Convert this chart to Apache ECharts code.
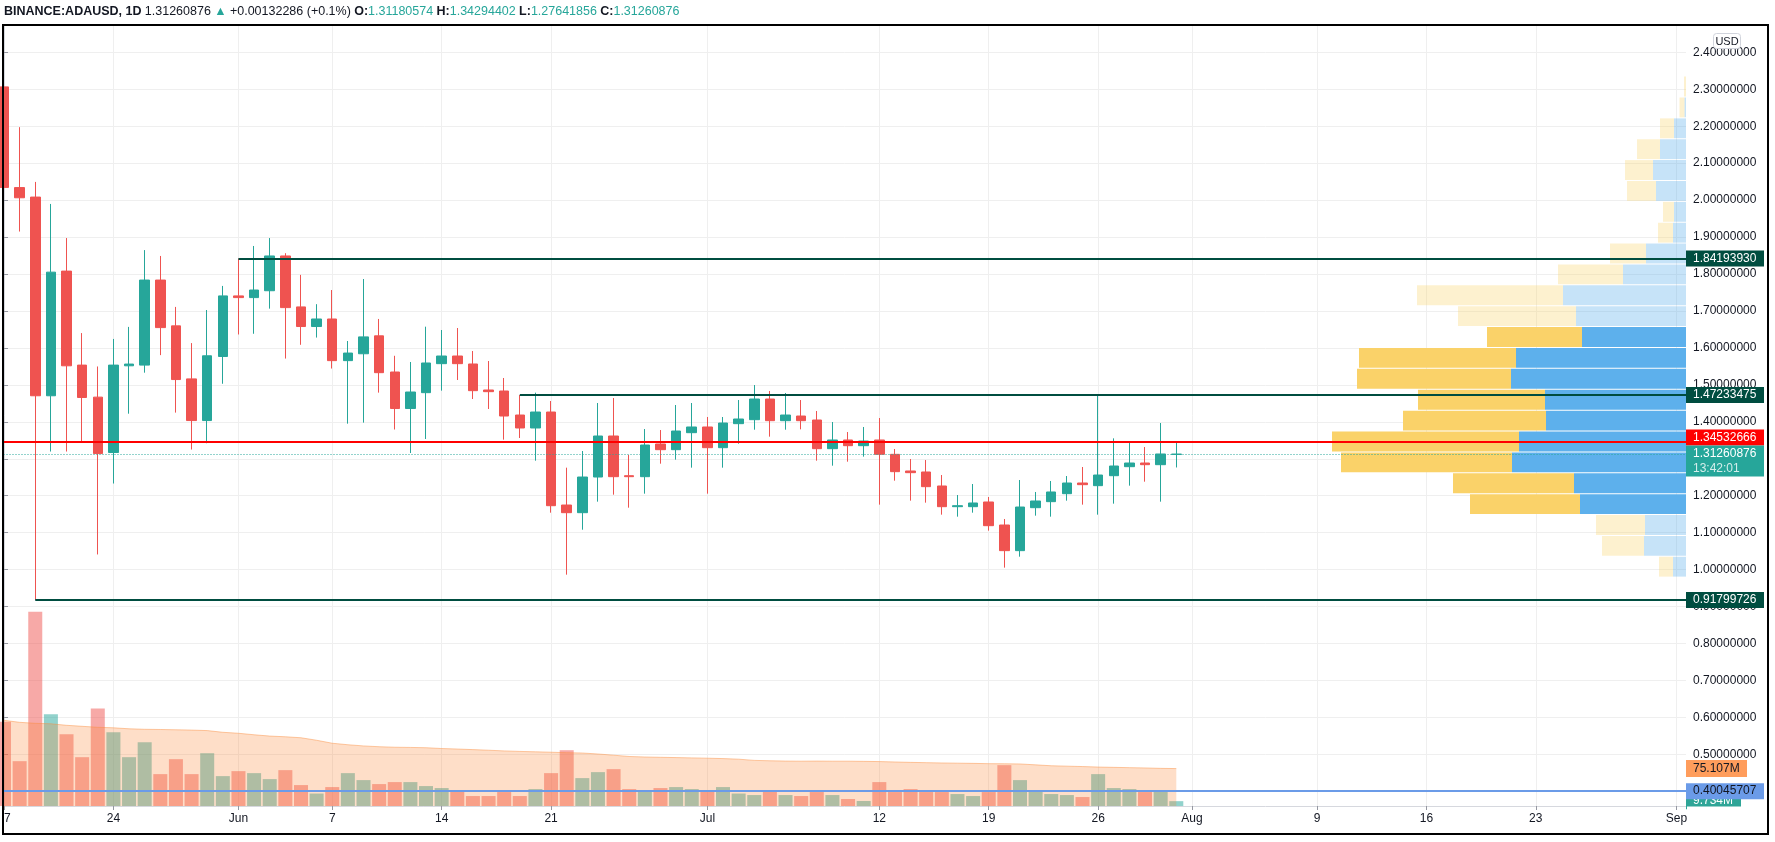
<!DOCTYPE html>
<html><head><meta charset="utf-8">
<script src="https://cdn.jsdelivr.net/npm/echarts@6/dist/echarts.min.js"></script>
<style>html,body{margin:0;padding:0;background:#fff}#c{width:1775px;height:842px}</style>
</head><body><div id="c"></div>
<script>
// ---------------- DATA ----------------
const startDate = '2021-05-17';
const opens = [2.3065,2.034,2.0083,1.4705,1.8079,1.5535,1.4668,1.3169,1.5516,1.5535,1.7837,1.6597,1.5162,1.4034,1.5768,1.7408,1.7362,1.7548,1.8489,1.711,1.6579,1.6783,1.5656,1.5842,1.6327,1.5348,1.436,1.4789,1.5574,1.5781,1.5565,1.4861,1.4834,1.4184,1.3833,1.4265,1.1748,1.1541,1.2506,1.3616,1.2542,1.2515,1.34,1.3246,1.3706,1.386,1.33,1.395,1.4058,1.4617,1.4031,1.4157,1.4049,1.3273,1.3508,1.3354,1.3508,1.312,1.2669,1.2642,1.2263,1.1703,1.1703,1.183,1.1207,1.0513,1.1676,1.1839,1.2055,1.2344,1.2272,1.2542,1.2786,1.2885,1.284,1.31180574];
const highs = [2.337,2.1975,2.0493,1.9897,1.8974,1.6402,1.5498,1.6243,1.6569,1.8648,1.8489,1.711,1.6131,1.7026,1.7678,1.84193930,1.8759,1.8974,1.8564,1.7977,1.7184,1.7567,1.6187,1.7865,1.6784,1.5787,1.5619,1.6575,1.6485,1.6539,1.5916,1.5646,1.5186,1.47233475,1.4789,1.4563,1.2759,1.321,1.4509,1.4644,1.3102,1.3805,1.3778,1.4455,1.4509,1.413,1.413,1.459,1.4996,1.4834,1.478,1.459,1.4293,1.3995,1.3724,1.386,1.4103,1.3264,1.2993,1.2966,1.256,1.2019,1.2317,1.1965,1.137,1.2425,1.2101,1.2398,1.2533,1.2777,1.4723,1.3553,1.3426,1.3318,1.3968,1.34294402];
const lows = [1.904,1.915,0.91799726,1.3196,1.3196,1.3447,1.041,1.233,1.422,1.533,1.5805,1.4249,1.325,1.342,1.503,1.6364,1.6383,1.7063,1.5712,1.6085,1.628,1.5442,1.395,1.3978,1.479,1.3792,1.3156,1.3535,1.4843,1.5132,1.4617,1.4347,1.3517,1.3562,1.2948,1.1541,0.9863,1.108,1.1839,1.2028,1.1676,1.2055,1.2867,1.2976,1.2759,1.2055,1.2759,1.3408,1.3787,1.3598,1.3787,1.3796,1.2948,1.2813,1.2921,1.3057,1.1758,1.2407,1.1866,1.1812,1.1487,1.1433,1.1541,1.1054,1.0053,1.035,1.146,1.1433,1.1866,1.1758,1.1487,1.1785,1.2272,1.238,1.1839,1.27641856];
const closes = [2.0344,2.0064,1.4705,1.8051,1.5516,1.4659,1.314,1.5535,1.5563,1.7837,1.655,1.5144,1.4034,1.5787,1.7408,1.7362,1.7567,1.8489,1.7091,1.6579,1.6783,1.5656,1.5861,1.6299,1.533,1.436,1.4807,1.5592,1.5781,1.5574,1.4843,1.4816,1.4157,1.3833,1.4265,1.173,1.1541,1.2506,1.3616,1.2515,1.2515,1.3372,1.3246,1.3751,1.386,1.33,1.3968,1.4076,1.4617,1.4031,1.4184,1.4031,1.3273,1.3508,1.3354,1.348,1.312,1.2651,1.2624,1.2245,1.1703,1.173,1.1803,1.1189,1.0513,1.1694,1.1857,1.2101,1.2344,1.2299,1.256,1.2804,1.2885,1.284,1.3129,1.31260876];
// volume, millions
const volumes = [169,90,390,184,144,98,196,148,98,128,64,94,64,106,60,70,66,54,72,42,25,38,66,52,44,48,48,40,36,29,20,20,28,20,34,66,112,56,68,74,34,32,36,38,34,32,38,25,22,32,22,20,28,22,14,10,48,28,34,28,28,24,20,28,82,52,32,24,22,18,64,36,34,28,32,9.734];
const volumeMA = [172,168,166,165,162,160,158,157,155,154,153.6,153,152.4,151.4,148,146,143,140.4,139,137,132,126,123,120.6,119,118,117.6,117,115.4,114.4,113.2,112,110.6,109.6,108.8,108,107,106.4,104.4,102,99.4,98.4,97.8,97.2,96.6,96,95.2,94,91.6,90.8,90.2,90,90.2,90,90,89.6,89.2,88.4,87.6,87,86.4,86,85.6,85,84.8,84.4,82.6,80.8,80,79.2,78.2,77.6,77,76.4,75.6,75.107];
const dateTickDates = ['2021-05-17','2021-05-24','2021-06-01','2021-06-07','2021-06-14','2021-06-21','2021-07-01','2021-07-12','2021-07-19','2021-07-26','2021-08-01','2021-08-09','2021-08-16','2021-08-23','2021-09-01'];
const dateTickLabels = ['17','24','Jun','7','14','21','Jul','12','19','26','Aug','9','16','23','Sep'];
const priceTicks = [0.4,0.5,0.6,0.7,0.8,0.9,1.0,1.1,1.2,1.3,1.4,1.5,1.6,1.7,1.8,1.9,2.0,2.1,2.2,2.3,2.4];
const levelPrices = [1.84193930, 1.47233475, 0.91799726];
const levelStartDates = ['2021-06-01', '2021-06-19', '2021-05-19'];
const alertPrice = 1.34532666;
const supportPrice = 0.40045707;
const countdownText = '13:42:01';
const profileRowLows = [0.981,1.0375,1.094,1.1505,1.207,1.2635,1.32,1.3765,1.433,1.4895,1.546,1.6025,1.659,1.7155,1.772,1.8285,1.885,1.9415,1.998,2.0545,2.111,2.1675,2.224,2.2805];
const profileRowHeight = 0.0565;
const profileUp =   [13,42,41,106,112,174,167,140,141,175,170,104,110,123,63,40,13,12,30,33,26,12,1.5,0];
const profileDown = [14,42,49,110,121,171,187,143,127,154,157,95,118,146,65,36,15,11,29,28,23,14,5,2];
const valueAreaLow = 1.15, valueAreaHigh = 1.66;
const headerSymbol = 'BINANCE:ADAUSD, 1D';
const headerChange = '+0.00132286 (+0.1%)';

// ---------------- CHART ----------------
const DAY = 86400000;
const dayIndex = d => Math.round((Date.parse(d) - Date.parse(startDate)) / DAY);
const tickIdx = dateTickDates.map(dayIndex);
const labelIdx = tickIdx.slice(1);   // first label drawn separately (clipped by frame)
const X_MIN = -0.032, X_MAX = 107.61;
const UP = '#26a69a', DOWN = '#ef5350', DARK = '#004d40', GRID = '#efefef', TXT = '#131722';
const FONT = '"Liberation Sans", Arial, sans-serif';
const fmt8 = v => v.toFixed(8);
const last = closes.length - 1;
const currentPrice = closes[last];

const chart = echarts.init(document.getElementById('c'), null, {renderer: 'canvas'});

const candleData = opens.map((o, i) => [i, o, closes[i], lows[i], highs[i]]);
const volData = volumes.map((v, i) => ({value: [i, v], itemStyle: {color: closes[i] >= opens[i] ? 'rgba(38,166,154,0.5)' : 'rgba(239,83,80,0.5)'}}));
const maData = volumeMA.map((v, i) => [i, v]);
const profileData = profileRowLows.map((p, i) => [p, profileUp[i], profileDown[i]]);

const markLines = [];
levelPrices.forEach((p, k) => {
  markLines.push([{coord: [dayIndex(levelStartDates[k]), p], lineStyle: {color: DARK, width: 2, type: 'solid'}}, {coord: [X_MAX, p]}]);
});
markLines.push([{coord: [X_MIN, alertPrice], lineStyle: {color: '#ff0000', width: 2, type: 'solid'}}, {coord: [X_MAX, alertPrice]}]);
markLines.push([{coord: [X_MIN, currentPrice], lineStyle: {color: UP, width: 1, type: [1, 2]}}, {coord: [X_MAX, currentPrice]}]);
markLines.push([{coord: [X_MIN, supportPrice], lineStyle: {color: '#6b9be8', width: 2, type: 'solid'}}, {coord: [X_MAX, supportPrice]}]);

const option = {
  animation: false,
  backgroundColor: '#ffffff',
  textStyle: {fontFamily: FONT},
  grid: {left: 3.5, top: 25, width: 1682.5, height: 781, containLabel: false},
  xAxis: [
    {type: 'value', min: X_MIN, max: X_MAX, position: 'bottom',
     axisLine: {show: true, lineStyle: {color: '#d6d8de', width: 1}},
     axisTick: {show: true, length: 4, customValues: tickIdx, lineStyle: {color: '#9598a1'}},
     axisLabel: {show: true, customValues: labelIdx, margin: 7, color: TXT, fontSize: 12, fontFamily: FONT,
       formatter: v => { const k = tickIdx.indexOf(Math.round(v)); return k >= 0 ? dateTickLabels[k] : ''; }},
     splitLine: {show: true, lineStyle: {color: GRID, width: 1}}},
    {type: 'value', min: 0, max: 1682.5, inverse: true, position: 'top', show: false}
  ],
  yAxis: [
    {type: 'value', min: 0.3602, max: 2.474, position: 'right', scale: true,
     axisLine: {show: true, lineStyle: {color: '#d6d8de', width: 1}},
     axisTick: {show: true, length: 4, customValues: priceTicks, lineStyle: {color: '#9598a1'}},
     axisLabel: {show: true, customValues: priceTicks, margin: 7, color: TXT, fontSize: 12, fontFamily: FONT, formatter: v => fmt8(v)},
     splitLine: {show: true, lineStyle: {color: GRID, width: 1}}},
    {type: 'value', min: 0, max: 1568, show: false, position: 'left'}
  ],
  series: [
    {type: 'bar', name: 'volume', xAxisIndex: 0, yAxisIndex: 1, data: volData, barWidth: 14, z: 1, silent: true},
    {type: 'line', name: 'volumeMA', xAxisIndex: 0, yAxisIndex: 1, data: maData, symbol: 'none', z: 2, silent: true,
     lineStyle: {color: 'rgba(250,140,60,0.45)', width: 1},
     areaStyle: {color: 'rgba(250,137,57,0.4)', origin: 'start'}},
    {type: 'custom', name: 'profile', xAxisIndex: 1, yAxisIndex: 0, data: profileData, z: 2, silent: true,
     encode: {x: 1, y: 0},
     renderItem: function (params, api) {
       const low = api.value(0), up = api.value(1), down = api.value(2);
       const high = low + profileRowHeight;
       const inVA = low >= valueAreaLow - 1e-6 && high <= valueAreaHigh + 1e-6;
       const a = api.coord([0, high]);
       const b = api.coord([up, low]);
       const c = api.coord([up + down, low]);
       const yTop = a[1] + 1, h = b[1] - yTop;
       return {type: 'group', children: [
         {type: 'rect', shape: {x: b[0], y: yTop, width: a[0] - b[0], height: h}, style: {fill: inVA ? '#5db0ec' : 'rgba(93,176,236,0.35)'}},
         {type: 'rect', shape: {x: c[0], y: yTop, width: b[0] - c[0], height: h}, style: {fill: inVA ? '#fad269' : 'rgba(250,210,105,0.32)'}}
       ]};
     }},
    {type: 'candlestick', name: 'ADAUSD', xAxisIndex: 0, yAxisIndex: 0, data: candleData, barWidth: 10, z: 3,
     encode: {x: 0, y: [1, 2, 3, 4]},
     itemStyle: {color: UP, color0: DOWN, borderColor: UP, borderColor0: DOWN, borderWidth: 1}},
    {type: 'line', name: 'levels', xAxisIndex: 0, yAxisIndex: 0, data: [], z: 5,
     markLine: {silent: true, symbol: ['none', 'none'], label: {show: false}, animation: false, data: markLines}}
  ]
};
chart.setOption(option);

// ---- axis-side labels, header, frame ----
const px = v => chart.convertToPixel({xAxisIndex: 0}, v);
const py = v => chart.convertToPixel({yAxisIndex: 0}, v);
const vy = v => chart.convertToPixel({yAxisIndex: 1}, v);
const AX = 1686;
const g = [];
function box(yc, h, w, bg, z) {
  g.push({type: 'rect', z: z, silent: true, shape: {x: AX, y: yc - h / 2, width: w, height: h}, style: {fill: bg}});
}
function txt(x, y, s, color, z, size) {
  g.push({type: 'text', z: z + 1, silent: true, style: {x: x, y: y, text: s, fill: color, font: (size || 12) + 'px ' + FONT, verticalAlign: 'middle', align: 'left'}});
}
levelPrices.forEach(p => { const y = py(p); box(y, 16, 78, DARK, 100); txt(AX + 7, y, fmt8(p), '#fff', 100); });
const yCur = py(currentPrice);
const curTop = yCur - 8.5;
const yRed = Math.min(py(alertPrice), curTop - 8);
box(yRed, 16, 78, '#ff0000', 102); txt(AX + 7, yRed, fmt8(alertPrice), '#fff', 102);
g.push({type: 'rect', z: 104, silent: true, shape: {x: AX, y: curTop, width: 78, height: 31}, style: {fill: UP}});
txt(AX + 7, yCur, fmt8(currentPrice), '#fff', 104);
txt(AX + 7, yCur + 15, countdownText, 'rgba(255,255,255,0.8)', 104);
const yMa = vy(volumeMA[last]);
box(yMa, 17, 61, '#ff9d5c', 106); txt(AX + 7, yMa, volumeMA[last].toFixed(3) + 'M', TXT, 106);
const yVol = vy(volumes[last]);
box(yVol, 16, 55, '#2fa597', 108); txt(AX + 7, yVol, volumes[last].toFixed(3) + 'M', '#fff', 108);
const ySup = py(supportPrice);
box(ySup, 16, 78, '#6b9be8', 110); txt(AX + 7, ySup, fmt8(supportPrice), TXT, 110);
// first date label, centred on its tick and clipped by the frame
g.push({type: 'text', z: 115, silent: true, style: {x: px(tickIdx[0]), y: 813, text: dateTickLabels[0], fill: TXT, font: '12px ' + FONT, align: 'center', verticalAlign: 'top'}});
// cover below plot on price scale, and left margin outside frame
g.push({type: 'rect', z: 120, silent: true, shape: {x: AX + 1, y: 806.5, width: 81, height: 27}, style: {fill: '#fff'}});
g.push({type: 'rect', z: 120, silent: true, shape: {x: 0, y: 806.5, width: 3, height: 30}, style: {fill: '#fff'}});
// USD badge
g.push({type: 'rect', z: 130, silent: true, shape: {x: 1713.5, y: 33.5, width: 27, height: 15, r: 3}, style: {fill: '#fff', stroke: '#d1d4dc', lineWidth: 1}});
g.push({type: 'text', z: 131, silent: true, style: {x: 1727, y: 41.5, text: 'USD', fill: TXT, font: '11px ' + FONT, align: 'center', verticalAlign: 'middle'}});
// header
const o = opens[last], h = highs[last], l = lows[last], c = closes[last];
g.push({type: 'text', z: 140, silent: true, style: {
  x: 4, y: 12, verticalAlign: 'middle', align: 'left',
  text: '{b|' + headerSymbol + '} {n|' + fmt8(c) + '} {t|▲} {n|' + headerChange + '} {b|O:}{t|' + fmt8(o) + '} {b|H:}{t|' + fmt8(h) + '} {b|L:}{t|' + fmt8(l) + '} {b|C:}{t|' + fmt8(c) + '}',
  rich: {
    b: {fontFamily: FONT, fontSize: 12.5, fontWeight: 'bold', fill: TXT},
    n: {fontFamily: FONT, fontSize: 12.5, fill: TXT},
    t: {fontFamily: FONT, fontSize: 12.5, fill: UP}
  }}});
// frame
g.push({type: 'rect', z: 150, silent: true, shape: {x: 3, y: 25, width: 1765, height: 809}, style: {fill: 'none', stroke: '#000', lineWidth: 2}});
chart.setOption({graphic: g});
</script>
</body></html>
